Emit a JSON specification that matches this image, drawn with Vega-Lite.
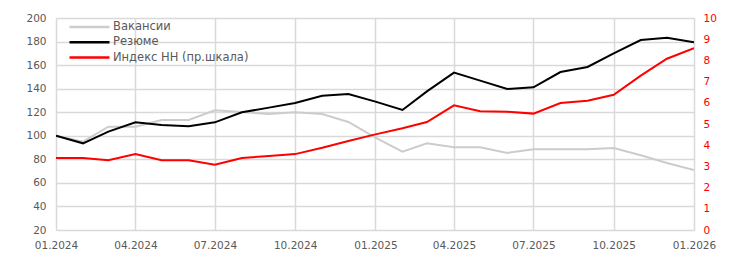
{
  "$schema": "https://vega.github.io/schema/vega-lite/v6.json",
  "width": 638,
  "height": 212,
  "autosize": {"type": "none"},
  "padding": {"left": 56, "top": 18, "right": 45, "bottom": 32},
  "background": "white",
  "config": {
    "view": {"stroke": null},
    "font": "DejaVu Sans",
    "axis": {"labelFont": "DejaVu Sans", "labelFontSize": 10.5, "labelColor": "#595959", "ticks": false, "domain": false, "gridColor": "#d9d9d9", "gridWidth": 1.5}
  },
  "datasets": {
    "rows": [
      {"date": "2024-01-01", "series": "Вакансии", "value": 100},
      {"date": "2024-02-01", "series": "Вакансии", "value": 95},
      {"date": "2024-03-01", "series": "Вакансии", "value": 107.7},
      {"date": "2024-04-01", "series": "Вакансии", "value": 107.7},
      {"date": "2024-05-01", "series": "Вакансии", "value": 113.4},
      {"date": "2024-06-01", "series": "Вакансии", "value": 113.4},
      {"date": "2024-07-01", "series": "Вакансии", "value": 121.6},
      {"date": "2024-08-01", "series": "Вакансии", "value": 120.2},
      {"date": "2024-09-01", "series": "Вакансии", "value": 118.5},
      {"date": "2024-10-01", "series": "Вакансии", "value": 119.9},
      {"date": "2024-11-01", "series": "Вакансии", "value": 118.5},
      {"date": "2024-12-01", "series": "Вакансии", "value": 111.7},
      {"date": "2025-01-01", "series": "Вакансии", "value": 98.5},
      {"date": "2025-02-01", "series": "Вакансии", "value": 86.5},
      {"date": "2025-03-01", "series": "Вакансии", "value": 93.6},
      {"date": "2025-04-01", "series": "Вакансии", "value": 90.2},
      {"date": "2025-05-01", "series": "Вакансии", "value": 90.2},
      {"date": "2025-06-01", "series": "Вакансии", "value": 85.4},
      {"date": "2025-07-01", "series": "Вакансии", "value": 88.5},
      {"date": "2025-08-01", "series": "Вакансии", "value": 88.5},
      {"date": "2025-09-01", "series": "Вакансии", "value": 88.5},
      {"date": "2025-10-01", "series": "Вакансии", "value": 89.6},
      {"date": "2025-11-01", "series": "Вакансии", "value": 83.4},
      {"date": "2025-12-01", "series": "Вакансии", "value": 76.9},
      {"date": "2026-01-01", "series": "Вакансии", "value": 70.9},
      {"date": "2024-01-01", "series": "Резюме", "value": 100},
      {"date": "2024-02-01", "series": "Резюме", "value": 93.6},
      {"date": "2024-03-01", "series": "Резюме", "value": 103.5},
      {"date": "2024-04-01", "series": "Резюме", "value": 111.4},
      {"date": "2024-05-01", "series": "Резюме", "value": 109.1},
      {"date": "2024-06-01", "series": "Резюме", "value": 108},
      {"date": "2024-07-01", "series": "Резюме", "value": 111.4},
      {"date": "2024-08-01", "series": "Резюме", "value": 119.9},
      {"date": "2024-09-01", "series": "Резюме", "value": 123.9},
      {"date": "2024-10-01", "series": "Резюме", "value": 127.8},
      {"date": "2024-11-01", "series": "Резюме", "value": 134},
      {"date": "2024-12-01", "series": "Резюме", "value": 135.5},
      {"date": "2025-01-01", "series": "Резюме", "value": 129},
      {"date": "2025-02-01", "series": "Резюме", "value": 121.9},
      {"date": "2025-03-01", "series": "Резюме", "value": 137.7},
      {"date": "2025-04-01", "series": "Резюме", "value": 153.6},
      {"date": "2025-05-01", "series": "Резюме", "value": 146.8},
      {"date": "2025-06-01", "series": "Резюме", "value": 139.7},
      {"date": "2025-07-01", "series": "Резюме", "value": 141.1},
      {"date": "2025-08-01", "series": "Резюме", "value": 154.1},
      {"date": "2025-09-01", "series": "Резюме", "value": 158.4},
      {"date": "2025-10-01", "series": "Резюме", "value": 170},
      {"date": "2025-11-01", "series": "Резюме", "value": 181.3},
      {"date": "2025-12-01", "series": "Резюме", "value": 183.3},
      {"date": "2026-01-01", "series": "Резюме", "value": 179.3},
      {"date": "2024-01-01", "series": "Индекс НН (пр.шкала)", "value": 3.4},
      {"date": "2024-02-01", "series": "Индекс НН (пр.шкала)", "value": 3.4},
      {"date": "2024-03-01", "series": "Индекс НН (пр.шкала)", "value": 3.29},
      {"date": "2024-04-01", "series": "Индекс НН (пр.шкала)", "value": 3.58},
      {"date": "2024-05-01", "series": "Индекс НН (пр.шкала)", "value": 3.29},
      {"date": "2024-06-01", "series": "Индекс НН (пр.шкала)", "value": 3.29},
      {"date": "2024-07-01", "series": "Индекс НН (пр.шкала)", "value": 3.08},
      {"date": "2024-08-01", "series": "Индекс НН (пр.шкала)", "value": 3.4},
      {"date": "2024-09-01", "series": "Индекс НН (пр.шкала)", "value": 3.49},
      {"date": "2024-10-01", "series": "Индекс НН (пр.шкала)", "value": 3.58},
      {"date": "2024-11-01", "series": "Индекс НН (пр.шкала)", "value": 3.88},
      {"date": "2024-12-01", "series": "Индекс НН (пр.шкала)", "value": 4.2},
      {"date": "2025-01-01", "series": "Индекс НН (пр.шкала)", "value": 4.51},
      {"date": "2025-02-01", "series": "Индекс НН (пр.шкала)", "value": 4.8},
      {"date": "2025-03-01", "series": "Индекс НН (пр.шкала)", "value": 5.09},
      {"date": "2025-04-01", "series": "Индекс НН (пр.шкала)", "value": 5.88},
      {"date": "2025-05-01", "series": "Индекс НН (пр.шкала)", "value": 5.6},
      {"date": "2025-06-01", "series": "Индекс НН (пр.шкала)", "value": 5.58},
      {"date": "2025-07-01", "series": "Индекс НН (пр.шкала)", "value": 5.49},
      {"date": "2025-08-01", "series": "Индекс НН (пр.шкала)", "value": 5.99},
      {"date": "2025-09-01", "series": "Индекс НН (пр.шкала)", "value": 6.1},
      {"date": "2025-10-01", "series": "Индекс НН (пр.шкала)", "value": 6.38},
      {"date": "2025-11-01", "series": "Индекс НН (пр.шкала)", "value": 7.28},
      {"date": "2025-12-01", "series": "Индекс НН (пр.шкала)", "value": 8.08},
      {"date": "2026-01-01", "series": "Индекс НН (пр.шкала)", "value": 8.58}
    ]
  },
  "data": {"name": "rows"},
  "encoding": {
    "x": {
      "field": "date",
      "type": "temporal",
      "title": null,
      "scale": {"type": "utc", "nice": false},
      "axis": {"format": "%m.%Y", "tickCount": {"interval": "month", "step": 3}, "labelPadding": 10, "grid": true, "labelFlush": false, "labelOverlap": false}
    },
    "color": {
      "field": "series",
      "type": "nominal",
      "scale": {"domain": ["Вакансии", "Резюме", "Индекс НН (пр.шкала)"], "range": ["#cccccc", "#000000", "#ff0000"]},
      "legend": {
        "title": null,
        "orient": "none",
        "legendX": 27,
        "legendY": 2.5,
        "symbolType": "M-4,0H4",
        "symbolSize": 100,
        "symbolStrokeWidth": 2.5,
        "labelFont": "DejaVu Sans",
        "labelFontSize": 11.5,
        "labelColor": "#595959",
        "rowPadding": 3.3,
        "labelOffset": 17
      }
    }
  },
  "layer": [
    {
      "transform": [{"filter": "datum.series !== 'Индекс НН (пр.шкала)'"}],
      "mark": {"type": "line", "strokeWidth": 2, "clip": true},
      "encoding": {
        "y": {
          "field": "value",
          "type": "quantitative",
          "title": null,
          "scale": {"domain": [20, 200], "nice": false, "zero": false},
          "axis": {"values": [20, 40, 60, 80, 100, 120, 140, 160, 180, 200], "labelPadding": 10, "grid": true}
        }
      }
    },
    {
      "transform": [{"filter": "datum.series === 'Индекс НН (пр.шкала)'"}],
      "mark": {"type": "line", "strokeWidth": 2, "clip": true},
      "encoding": {
        "y": {
          "field": "value",
          "type": "quantitative",
          "title": null,
          "scale": {"domain": [0, 10], "nice": false},
          "axis": {"orient": "right", "values": [0, 1, 2, 3, 4, 5, 6, 7, 8, 9, 10], "labelPadding": 9, "grid": false, "labelColor": "#ff0000"}
        }
      }
    }
  ],
  "resolve": {"scale": {"y": "independent"}}
}
